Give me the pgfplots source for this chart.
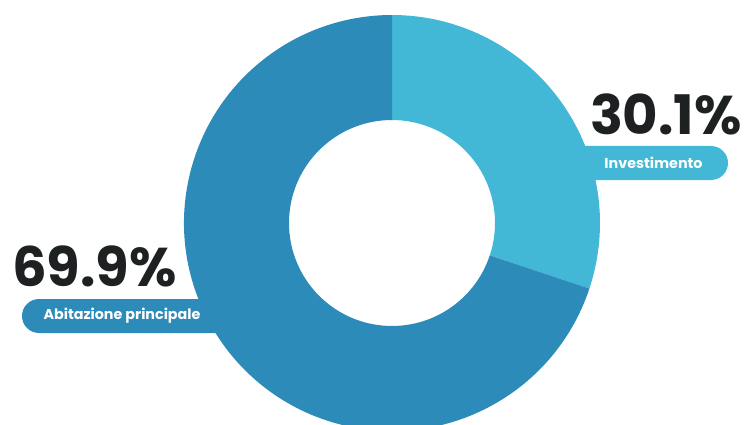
\documentclass[border=0pt]{standalone}
\usepackage{pgfplots}
\pgfplotsset{compat=1.18}
\usepackage{pgfplotstable}
\usepackage{fontspec}
\setmainfont{Poppins}
\definecolor{cLight}{HTML}{42B8D6}
\definecolor{cDark}{HTML}{2D8BBA}
\definecolor{cText}{HTML}{1E2122}
\pgfplotstableread{
label value
Investimento 30.1
Abitazione 69.9
}\piedata
\begin{document}
\begin{tikzpicture}
\useasboundingbox (0,0) rectangle (745pt,424pt);
\pgfplotstablegetelem{0}{value}\of\piedata \let\vA\pgfplotsretval
\pgfplotstablegetelem{1}{value}\of\piedata \let\vB\pgfplotsretval
\pgfmathsetmacro{\aEnd}{90-3.6*\vA}
\begin{axis}[
  scale only axis, width=745pt, height=424pt,
  xmin=0, xmax=745, ymin=0, ymax=424,
  hide axis, clip=true,
]
% slices (center 392,201; outer r 208; inner r 103)
\fill[cLight] (axis cs:392,201) ++(90:208) arc[start angle=90, end angle=\aEnd, radius=208]
  -- ++(\aEnd+180:105) arc[start angle=\aEnd, end angle=90, radius=103] -- cycle;
\fill[cDark] (axis cs:392,201) ++(\aEnd:208) arc[start angle=\aEnd, end angle=-270, radius=208]
  -- ++(-90:105) arc[start angle=-270, end angle=\aEnd, radius=103] -- cycle;
% pills
\fill[cLight, rounded corners=17pt] (axis cs:540,244) rectangle (axis cs:728,278);
\fill[cDark, rounded corners=17pt] (axis cs:22,91) rectangle (axis cs:260,125);
\node[anchor=base east, text=cText, font=\fontsize{54.5}{58}\selectfont\bfseries, inner sep=0pt] at (axis cs:742,289) {\vA\%};
\node[anchor=base west, text=cText, font=\fontsize{54.5}{58}\selectfont\bfseries, inner sep=0pt] at (axis cs:12,138) {\vB\%};
\node[text=white, font=\fontsize{14.3}{16}\selectfont\bfseries, inner sep=0pt] at (axis cs:653.5,261) {Investimento};
\node[text=white, font=\fontsize{14.3}{16}\selectfont\bfseries, inner sep=0pt] at (axis cs:122,108) {Abitazione principale};
\end{axis}
\end{tikzpicture}
\end{document}
